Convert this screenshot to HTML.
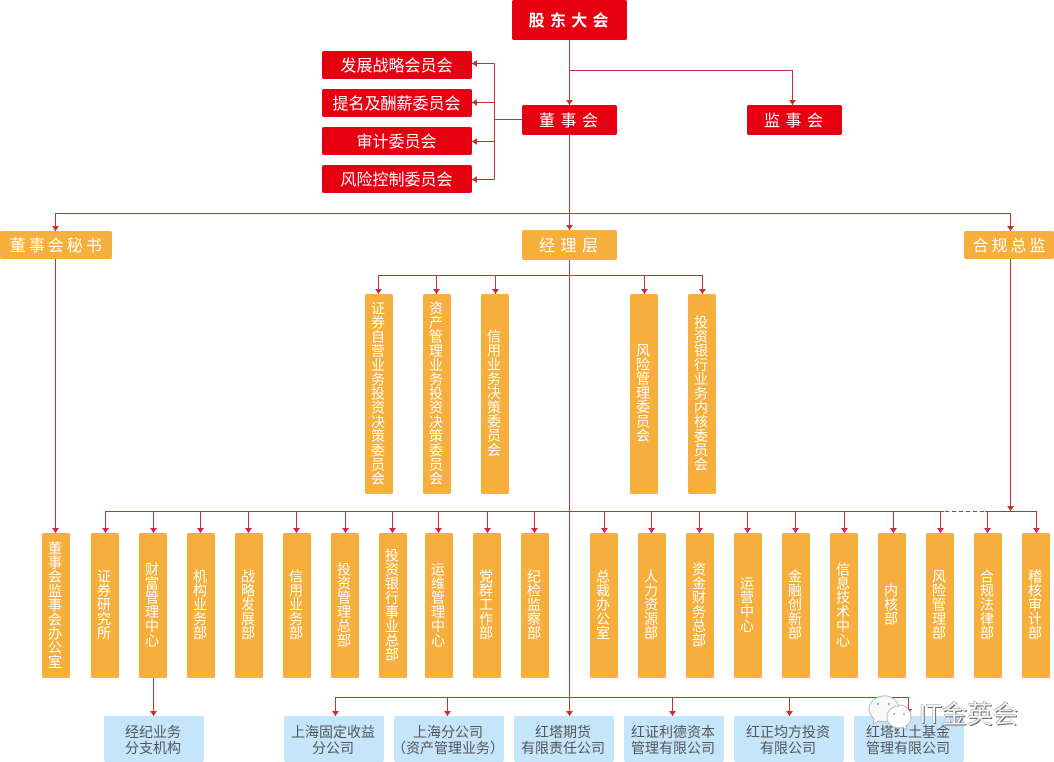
<!DOCTYPE html>
<html lang="zh"><head><meta charset="utf-8"><title>组织结构图</title>
<style>
html,body{margin:0;padding:0;background:#fff}
#c{position:relative;width:1054px;height:762px;overflow:hidden;font-family:"Liberation Sans","Noto Sans CJK SC",sans-serif;color:#fff}
#c svg{position:absolute;left:0;top:0}
.b{position:absolute;display:flex;align-items:center;justify-content:center;border-radius:2px;text-align:center;box-sizing:border-box;white-space:nowrap}
.r{background:#e60012}
.o{background:#f6ae3c}
.t{font-size:16px;letter-spacing:5.500px;text-indent:3.500px;padding:0 0 2px 0}
.m{font-size:16px;letter-spacing:0;padding:0 1px 2px 0}
.v{width:28px;font-size:14px;line-height:28px;writing-mode:vertical-rl;text-orientation:upright;letter-spacing:.2px;background:#f6ae3c;padding:0 0 2px 0}
.v span{position:relative;left:-1px}
.h{top:533px;height:145px}
.u{top:294px;height:200px}
.l{top:716px;height:46px;background:#c5e5fa;color:#555;font-size:14px;line-height:16.500px;padding:2px 2px 0 0}
#w{position:absolute;left:919px;top:698px;font-size:25.500px;line-height:34px;color:#f4f4f4;text-shadow:1px 1px 0 #666,-.5px -.5px 0 #999;white-space:nowrap}
</style></head><body><div id="c">
<div class="b r t" style="left:512px;top:0;width:115px;height:40px;font-weight:700;letter-spacing:5.300px">股东大会</div>
<div class="b r m" style="left:322px;top:51px;width:150px;height:28px">发展战略会员会</div>
<div class="b r m" style="left:322px;top:89px;width:150px;height:28px">提名及酬薪委员会</div>
<div class="b r m" style="left:322px;top:127px;width:150px;height:28px">审计委员会</div>
<div class="b r m" style="left:322px;top:165px;width:150px;height:28px">风险控制委员会</div>
<div class="b r t" style="left:522px;top:105px;width:95px;height:30px">董事会</div>
<div class="b r t" style="left:747px;top:105px;width:95px;height:30px">监事会</div>
<div class="b o t" style="left:522px;top:230px;width:95px;height:30px">经理层</div>
<div class="b o" style="left:0;top:231px;width:112px;height:28px;font-size:16px;letter-spacing:3px;text-indent:2.500px;padding:0 0 2px 0">董事会秘书</div>
<div class="b o" style="left:964px;top:231px;width:90px;height:28px;font-size:16px;letter-spacing:3px;text-indent:3px;padding:0 0 2px 0">合规总监</div>

<div class="b v u" style="left:365px"><span>证券自营业务投资决策委员会</span></div>
<div class="b v u" style="left:423px"><span>资产管理业务投资决策委员会</span></div>
<div class="b v u" style="left:481px"><span>信用业务决策委员会</span></div>
<div class="b v u" style="left:630px"><span>风险管理委员会</span></div>
<div class="b v u" style="left:688px"><span>投资银行业务内核委员会</span></div>

<div class="b v h" style="left:42px"><span>董事会监事会办公室</span></div>
<div class="b v h" style="left:91px"><span>证券研究所</span></div>
<div class="b v h" style="left:139px"><span>财富管理中心</span></div>
<div class="b v h" style="left:187px"><span>机构业务部</span></div>
<div class="b v h" style="left:235px"><span>战略发展部</span></div>
<div class="b v h" style="left:283px"><span>信用业务部</span></div>
<div class="b v h" style="left:331px"><span>投资管理总部</span></div>
<div class="b v h" style="left:379px"><span>投资银行事业总部</span></div>
<div class="b v h" style="left:425px"><span>运维管理中心</span></div>
<div class="b v h" style="left:473px"><span>党群工作部</span></div>
<div class="b v h" style="left:521px"><span>纪检监察部</span></div>
<div class="b v h" style="left:590px"><span>总裁办公室</span></div>
<div class="b v h" style="left:638px"><span>人力资源部</span></div>
<div class="b v h" style="left:686px"><span>资金财务总部</span></div>
<div class="b v h" style="left:734px"><span>运营中心</span></div>
<div class="b v h" style="left:782px"><span>金融创新部</span></div>
<div class="b v h" style="left:830px"><span>信息技术中心</span></div>
<div class="b v h" style="left:878px"><span>内核部</span></div>
<div class="b v h" style="left:926px"><span>风险管理部</span></div>
<div class="b v h" style="left:974px"><span>合规法律部</span></div>
<div class="b v h" style="left:1022px"><span>稽核审计部</span></div>

<div class="b l" style="left:104px;width:100px">经纪业务<br>分支机构</div>
<div class="b l" style="left:284px;width:100px">上海固定收益<br>分公司</div>
<div class="b l" style="left:394px;width:110px">上海分公司<br>（资产管理业务）</div>
<div class="b l" style="left:514px;width:100px">红塔期货<br>有限责任公司</div>
<div class="b l" style="left:624px;width:100px">红证利德资本<br>管理有限公司</div>
<div class="b l" style="left:734px;width:110px">红正均方投资<br>有限公司</div>
<div class="b l" style="left:854px;width:110px">红塔红土基金<br>管理有限公司</div>

<svg width="1054" height="762" viewBox="0 0 1054 762">
<g fill="none" stroke="#c8302a" stroke-width="1">
<path d="M569.5 40V105M569.5 70.5H792.5V105M522 119.5H494.5M494.5 63.5V179.5M472 63.5H494.5M472 102.5H494.5M472 141.5H494.5M472 179.5H494.5"/>
<path d="M569.5 135V230M55.5 231V213.5H1010.5V231M569.5 260V716M55.5 259V533M1010.5 259V511"/>
<path d="M378.5 294V275.5H695M702.5 294V275.5H695M436.5 275.5V294M495.5 275.5V294M644.5 275.5V294"/>
<path d="M105.5 533V511.5H944M985 511.5H1036.5V533M153.5 511.5V533M200.5 511.5V533M248.5 511.5V533M296.5 511.5V533M345.5 511.5V533M392.5 511.5V533M438.5 511.5V533M487.5 511.5V533M534.5 511.5V533M604.5 511.5V533M651.5 511.5V533M699.5 511.5V533M747.5 511.5V533M795.5 511.5V533M844.5 511.5V533M893.5 511.5V533M940.5 511.5V533M987.5 511.5V533"/>
<path d="M945 511.5H985" stroke-dasharray="4 3"/>
<path d="M153.5 678V716M335.5 716V697.5H908.5V716M447.5 697.5V716M672.5 697.5V716M789.5 697.5V716"/>
</g>
<g fill="#c8302a">
<path d="M566 100h7l-3.500 5z"/><path d="M789 100h7l-3.500 5zM566 225h7l-3.500 5zM52 226h7l-3.500 5zM1007 226h7l-3.500 5z"/>
<path d="M472 63.500l5-3.500v7zM472 102.500l5-3.500v7zM472 141.500l5-3.500v7zM472 179.500l5-3.500v7z"/>
<path d="M375 289h7l-3.500 5zM433 289h7l-3.500 5zM492 289h7l-3.500 5zM641 289h7l-3.500 5zM699 289h7l-3.500 5z"/>
<path d="M52 528h7l-3.500 5zM102 528h7l-3.500 5zM150 528h7l-3.500 5zM197 528h7l-3.500 5zM245 528h7l-3.500 5zM293 528h7l-3.500 5zM342 528h7l-3.500 5zM389 528h7l-3.500 5zM435 528h7l-3.500 5zM484 528h7l-3.500 5zM531 528h7l-3.500 5zM601 528h7l-3.500 5zM648 528h7l-3.500 5zM696 528h7l-3.500 5zM744 528h7l-3.500 5zM792 528h7l-3.500 5zM841 528h7l-3.500 5zM890 528h7l-3.500 5zM937 528h7l-3.500 5zM984 528h7l-3.500 5zM1033 528h7l-3.500 5z"/>
<path d="M1007 506h7l-3.500 5z"/>
<path d="M150 711h7l-3.500 5zM332 711h7l-3.500 5zM444 711h7l-3.500 5zM566 711h7l-3.500 5zM669 711h7l-3.500 5zM786 711h7l-3.500 5zM905 709h7l-3.500 5z"/>
</g>
<g stroke="#bbb" stroke-width="1" fill="#f8f8f8">
<path d="M884 696c-8 0-15 6-15 13 0 4 2 7 5 10l-1 5 6-3c2 .6 3 .8 5 .8 8 0 15-6 15-13s-7-13-15-13z"/>
<path d="M899 706c-7 0-12 5-12 11 0 6 5 11 12 11 1.500 0 3-.3 4-.7l4 2.700-1-4c3-2 5-5 5-9 0-6-5-12-12-12z" fill="#fff"/>
</g>
<g fill="#aaa"><circle cx="878" cy="704" r="1.200"/><circle cx="889" cy="704" r="1.200"/><circle cx="894" cy="714" r="1"/><circle cx="904" cy="714" r="1"/></g>
</svg>
<div id="w">IT金英会</div>
</div></body></html>
